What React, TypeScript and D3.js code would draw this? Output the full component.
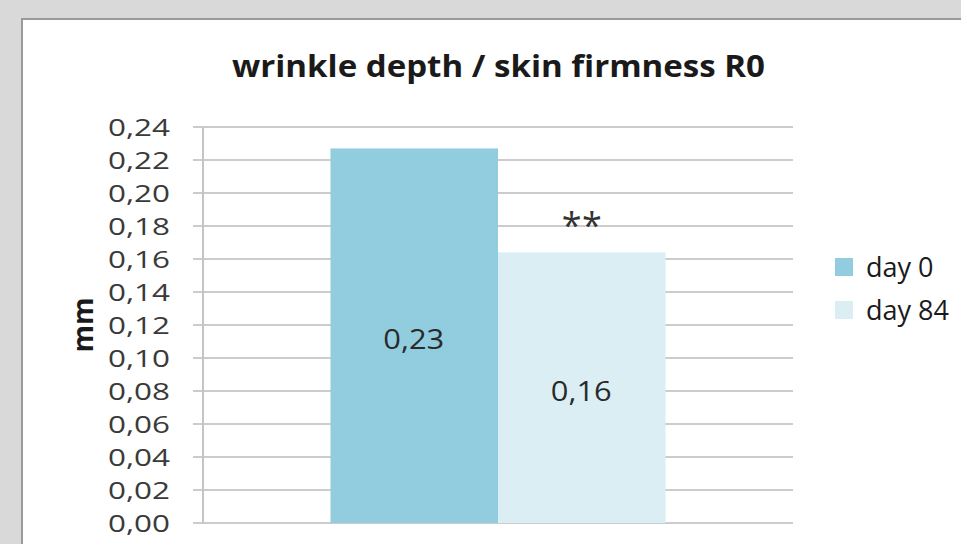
import React from "react";
import * as d3 from "d3";

const categories = ["R0"];
const seriesNames = ["day 0", "day 84"];
const seriesValues = [0.227, 0.164];
const valueLabels = ["0,23", "0,16"];
const significance = ["", "**"];
const yTicks = [0, 0.02, 0.04, 0.06, 0.08, 0.1, 0.12, 0.14, 0.16, 0.18, 0.2, 0.22, 0.24];
const colors = ["#92cddf", "#daeef3"];
const titleText = "wrinkle depth / skin firmness R0";
const yAxisTitle = "mm";

const W = 961;
const H = 544;
const FONT = "'Open Sans', sans-serif";

export default function App() {
  const plotLeft = 203;
  const plotRight = 793;
  const plotTop = 127;
  const plotBottom = 523;

  const y = d3.scaleLinear().domain([0, 0.24]).range([plotBottom, plotTop]);
  const p = 0.2757;
  const x0 = d3
    .scaleBand<string>()
    .domain(categories)
    .range([plotLeft, plotRight])
    .paddingInner(p)
    .paddingOuter(p);
  const x1 = d3
    .scaleBand<string>()
    .domain(seriesNames)
    .range([0, x0.bandwidth()]);
  const fmt = (v: number) => d3.format(".2f")(v).replace(".", ",");

  return (
    <svg
      width={W}
      height={H}
      style={{ position: "absolute", left: 0, top: 0 }}
      fontFamily={FONT}
    >
      <rect x={0} y={0} width={W} height={H} fill="#d9d9d9" />
      <rect x={22} y={19} width={W + 20} height={H + 20} fill="#ffffff" stroke="#9a9a9a" strokeWidth={2} />

      <text
        x={232}
        y={77}
        fontSize={31}
        fontWeight="bold"
        fill="#1a1a1a"
        textLength={533}
        lengthAdjust="spacingAndGlyphs"
      >
        {titleText}
      </text>

      {yTicks.map((t) => (
        <g key={t}>
          <line x1={193} x2={plotRight} y1={y(t)} y2={y(t)} stroke="#cccccc" strokeWidth={2} />
          <text
            x={108}
            y={y(t)}
            dy="0.36em"
            fontSize={24}
            fill="#3a3a3a"
            textLength={62}
            lengthAdjust="spacingAndGlyphs"
          >
            {fmt(t)}
          </text>
        </g>
      ))}
      <line x1={plotLeft} x2={plotLeft} y1={plotTop} y2={plotBottom} stroke="#c4c4c4" strokeWidth={2} />

      <text
        transform={`translate(83,325) rotate(-90)`}
        textAnchor="middle"
        dy="0.36em"
        fontSize={28}
        fontWeight="bold"
        fill="#1a1a1a"
      >
        {yAxisTitle}
      </text>

      {categories.map((c) => (
        <g key={c} transform={`translate(${x0(c)},0)`}>
          {seriesNames.map((s, i) => {
            const bx = x1(s)!;
            const bw = x1.bandwidth();
            const top = y(seriesValues[i]);
            return (
              <g key={s}>
                <rect x={bx} y={top} width={bw} height={plotBottom - top} fill={colors[i]} />
                <text
                  x={bx + bw / 2 - 31}
                  y={(top + plotBottom) / 2 + 3}
                  dy="0.36em"
                  fontSize={27.5}
                  fill="#2a2a2a"
                  textLength={61}
                  lengthAdjust="spacingAndGlyphs"
                >
                  {valueLabels[i]}
                </text>
                {significance[i] && (
                  <text
                    x={bx + bw / 2 - 20}
                    y={top - 14}
                    fontSize={36}
                    fill="#333"
                    textLength={40}
                    lengthAdjust="spacing"
                  >
                    {significance[i]}
                  </text>
                )}
              </g>
            );
          })}
        </g>
      ))}

      {seriesNames.map((s, i) => (
        <g key={s} transform={`translate(835,${258 + i * 43})`}>
          <rect x={0} y={0} width={18} height={18} fill={colors[i]} />
          <text x={31} y={9} dy="0.36em" fontSize={27} fill="#1a1a1a">
            {s}
          </text>
        </g>
      ))}
    </svg>
  );
}
